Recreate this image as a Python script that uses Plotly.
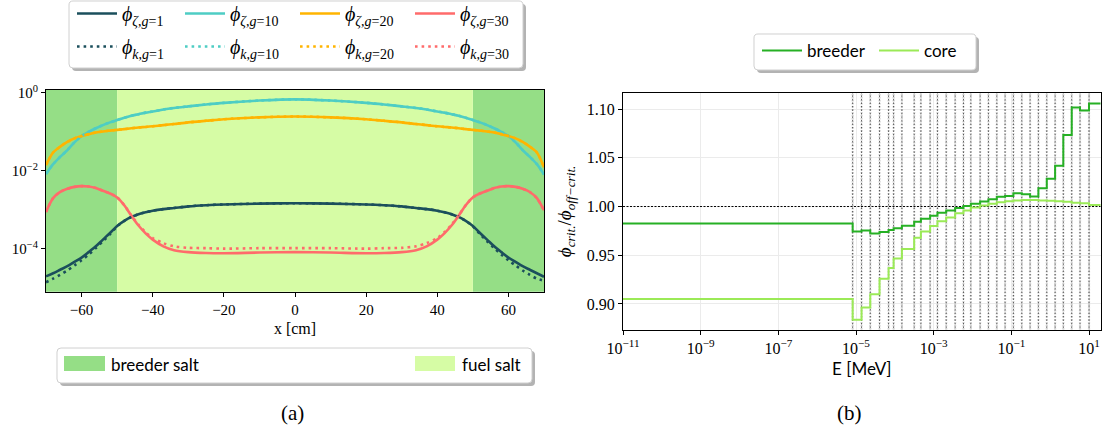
import plotly.graph_objects as go

W, H = 1104, 436


def px(x):
    return x / W


def py(y):
    return 1 - y / H


# ---------------- Panel (a): flux profiles ----------------
x_cm = [-70, -68, -66, -64, -62, -60, -58, -56, -54, -52, -50, -48, -46, -44, -42, -40, -37, -34, -30, -25, -20, -10,
        0, 10, 20, 25, 30, 34, 37, 40, 42, 44, 46, 48, 50, 52, 54, 56, 58, 60, 62, 64, 66, 68, 70]

phi_zeta_g1 = [2.00e-5, 2.40e-5, 2.95e-5, 3.63e-5, 4.68e-5, 6.03e-5, 8.32e-5, 1.17e-4, 1.74e-4, 2.57e-4, 3.89e-4,
               5.25e-4, 6.61e-4, 7.76e-4, 8.71e-4, 9.55e-4, 1.05e-3, 1.12e-3, 1.23e-3, 1.32e-3, 1.38e-3, 1.45e-3,
               1.48e-3, 1.45e-3, 1.38e-3, 1.32e-3, 1.23e-3, 1.12e-3, 1.05e-3, 9.55e-4, 8.71e-4, 7.76e-4, 6.61e-4,
               5.25e-4, 3.89e-4, 2.57e-4, 1.74e-4, 1.17e-4, 8.32e-5, 6.03e-5, 4.68e-5, 3.63e-5, 2.95e-5, 2.40e-5, 1.95e-5]
phi_k_g1 = [1.41e-5, 1.74e-5, 2.19e-5, 2.82e-5, 3.80e-5, 5.13e-5, 7.24e-5, 1.05e-4, 1.58e-4, 2.40e-4, 3.80e-4,
            5.25e-4, 6.61e-4, 7.76e-4, 8.71e-4, 9.55e-4, 1.05e-3, 1.12e-3, 1.23e-3, 1.32e-3, 1.38e-3, 1.45e-3,
            1.48e-3, 1.45e-3, 1.38e-3, 1.32e-3, 1.23e-3, 1.12e-3, 1.05e-3, 9.55e-4, 8.71e-4, 7.76e-4, 6.61e-4,
            5.25e-4, 3.80e-4, 2.40e-4, 1.58e-4, 1.05e-4, 7.24e-5, 5.13e-5, 3.80e-5, 2.82e-5, 2.19e-5, 1.74e-5, 1.55e-5]
phi_zeta_g10 = [8.3e-3, 1.48e-2, 2.29e-2, 3.39e-2, 5.37e-2, 7.76e-2, 0.100, 0.123, 0.148, 0.174, 0.200,
                0.229, 0.257, 0.282, 0.309, 0.331, 0.372, 0.407, 0.447, 0.500, 0.550, 0.630,
                0.676, 0.630, 0.550, 0.500, 0.447, 0.407, 0.372, 0.331, 0.309, 0.282, 0.257,
                0.229, 0.200, 0.174, 0.148, 0.123, 0.100, 7.76e-2, 5.37e-2, 3.39e-2, 2.29e-2, 1.48e-2, 8.1e-3]
phi_k_g10 = [8.3e-3, 1.48e-2, 2.29e-2, 3.39e-2, 5.37e-2, 7.76e-2, 0.100, 0.123, 0.148, 0.174, 0.200,
             0.229, 0.257, 0.282, 0.309, 0.331, 0.372, 0.407, 0.447, 0.500, 0.550, 0.630,
             0.676, 0.630, 0.550, 0.500, 0.447, 0.407, 0.372, 0.331, 0.309, 0.282, 0.257,
             0.229, 0.200, 0.174, 0.148, 0.123, 0.100, 7.76e-2, 5.37e-2, 3.39e-2, 2.29e-2, 1.48e-2, 8.1e-3]
phi_zeta_g20 = [1.41e-2, 2.95e-2, 4.17e-2, 5.50e-2, 6.76e-2, 7.76e-2, 8.70e-2, 9.55e-2, 0.102, 0.107, 0.112,
                0.117, 0.123, 0.129, 0.133, 0.138, 0.148, 0.158, 0.174, 0.191, 0.209, 0.234,
                0.245, 0.234, 0.209, 0.191, 0.174, 0.158, 0.148, 0.138, 0.133, 0.129, 0.123,
                0.117, 0.112, 0.107, 0.102, 9.55e-2, 8.70e-2, 7.76e-2, 6.76e-2, 5.50e-2, 4.17e-2, 2.95e-2, 1.23e-2]
phi_k_g20 = [1.41e-2, 2.95e-2, 4.17e-2, 5.50e-2, 6.76e-2, 7.76e-2, 8.70e-2, 9.55e-2, 0.102, 0.107, 0.112,
             0.117, 0.123, 0.129, 0.133, 0.138, 0.148, 0.158, 0.174, 0.191, 0.209, 0.234,
             0.245, 0.234, 0.209, 0.191, 0.174, 0.158, 0.148, 0.138, 0.133, 0.129, 0.123,
             0.117, 0.112, 0.107, 0.102, 9.55e-2, 8.70e-2, 7.76e-2, 6.76e-2, 5.50e-2, 4.17e-2, 2.95e-2, 1.23e-2]
phi_zeta_g30 = [8.9e-4, 2.0e-3, 2.88e-3, 3.47e-3, 3.89e-3, 4.07e-3, 3.98e-3, 3.63e-3, 3.09e-3, 2.63e-3, 2.09e-3,
                1.32e-3, 7.1e-4, 3.98e-4, 2.51e-4, 1.74e-4, 1.17e-4, 9.3e-5, 8.3e-5, 7.9e-5, 7.8e-5, 8.1e-5,
                8.3e-5, 8.1e-5, 7.8e-5, 7.9e-5, 8.3e-5, 9.3e-5, 1.17e-4, 1.74e-4, 2.51e-4, 3.98e-4, 7.1e-4,
                1.32e-3, 2.09e-3, 2.63e-3, 3.09e-3, 3.63e-3, 3.98e-3, 4.07e-3, 3.89e-3, 3.47e-3, 2.88e-3, 2.0e-3, 9.8e-4]
phi_k_g30 = [8.9e-4, 2.0e-3, 2.88e-3, 3.47e-3, 3.89e-3, 4.07e-3, 3.98e-3, 3.63e-3, 3.09e-3, 2.63e-3, 2.09e-3,
             1.32e-3, 7.2e-4, 4.17e-4, 2.69e-4, 1.91e-4, 1.41e-4, 1.17e-4, 1.07e-4, 1.05e-4, 1.02e-4, 1.05e-4,
             1.05e-4, 1.05e-4, 1.02e-4, 1.05e-4, 1.07e-4, 1.17e-4, 1.41e-4, 1.91e-4, 2.69e-4, 4.17e-4, 7.2e-4,
             1.32e-3, 2.09e-3, 2.63e-3, 3.09e-3, 3.63e-3, 3.98e-3, 4.07e-3, 3.89e-3, 3.47e-3, 2.88e-3, 2.0e-3, 9.8e-4]

groups = ["1", "10", "20", "30"]
group_colors = ["#1B4F5C", "#4ECDC4", "#FFB400", "#FF6B6B"]

# material regions [cm]
breeder_regions = [(-70, -50), (50, 70)]
fuel_region = (-50, 50)
breeder_color = "#95DE86"
fuel_color = "#D6FCA5"

# ---------------- Panel (b): critical / off-critical ratio ----------------
E_edges_MeV = [1e-11, 8.2e-6, 1.39e-5, 2.33e-5, 4.04e-5, 6.9e-5, 9.3e-5, 1.52e-4, 3.15e-4, 4.69e-4, 8.1e-4,
               1.25e-3, 2.1e-3, 3.57e-3, 5.85e-3, 9.06e-3, 1.57e-2, 2.57e-2, 4.23e-2, 6.9e-2, 0.113,
               0.186, 0.304, 0.497, 0.817, 1.34, 2.18, 3.59, 5.87, 10.0, 20.0]
ratio_breeder = [0.9825, 0.9745, 0.9754, 0.9723, 0.9738, 0.9760, 0.9778, 0.9803, 0.9845, 0.9875,
                 0.9905, 0.9937, 0.9960, 0.9985, 1.0005, 1.0028, 1.0052, 1.0075, 1.0100, 1.0108,
                 1.0137, 1.0127, 1.0103, 1.0187, 1.0284, 1.0418, 1.0733, 1.1015, 1.0986, 1.1058]
ratio_core = [0.9052, 0.8837, 0.8963, 0.9100, 0.9260, 0.9370, 0.9466, 0.9563, 0.9680, 0.9743,
              0.9800, 0.9850, 0.9887, 0.9930, 0.9959, 0.9990, 1.0010, 1.0028, 1.0045, 1.0055,
              1.0062, 1.0066, 1.0066, 1.0062, 1.0060, 1.0055, 1.0048, 1.0040, 1.0033, 1.0015]
ratio_colors = {"breeder": "#26B024", "core": "#9BEA57"}

SERIF = "Liberation Serif"
SANS = "Lato"

fig = go.Figure()

# ---- panel (a) traces ----
legend_names = ["legend", "legend2", "legend3", "legend4"]
zeta_series = [phi_zeta_g1, phi_zeta_g10, phi_zeta_g20, phi_zeta_g30]
k_series = [phi_k_g1, phi_k_g10, phi_k_g20, phi_k_g30]
for i, g in enumerate(groups):
    fig.add_trace(go.Scatter(
        x=x_cm, y=zeta_series[i], mode="lines", line=dict(color=group_colors[i], width=2.6, shape="spline", smoothing=0.8),
        name="<i>ϕ</i><sub><i>ζ</i>,<i>g</i>=%s</sub>" % g, legend=legend_names[i], legendgroup="z" + g,
        xaxis="x", yaxis="y"))
for i, g in enumerate(groups):
    fig.add_trace(go.Scatter(
        x=x_cm, y=k_series[i], mode="lines",
        line=dict(color=group_colors[i], width=2.6, dash="2.6px,4px", shape="spline", smoothing=0.8),
        name="<i>ϕ</i><sub><i>k</i>,<i>g</i>=%s</sub>" % g, legend=legend_names[i], legendgroup="k" + g,
        xaxis="x", yaxis="y"))

# ---- panel (b) traces ----
bx, by = [], []
for e in E_edges_MeV[1:-1]:
    bx += [e, e, None]
    by += [0.80, 1.20, None]
fig.add_trace(go.Scatter(x=bx, y=by, mode="lines", line=dict(color="rgba(170,170,170,0.5)", width=2.2, dash="1.5px,1.5px"),
                         showlegend=False, hoverinfo="skip", xaxis="x2", yaxis="y2"))
fig.add_trace(go.Scatter(x=bx, y=by, mode="lines", line=dict(color="rgba(0,0,0,0.8)", width=0.8, dash="1.5px,2px"),
                         showlegend=False, hoverinfo="skip", xaxis="x2", yaxis="y2"))
fig.add_trace(go.Scatter(x=[E_edges_MeV[0], E_edges_MeV[-1]], y=[1.0, 1.0], mode="lines",
                         line=dict(color="black", width=1, dash="2px,1.5px"), showlegend=False,
                         hoverinfo="skip", xaxis="x2", yaxis="y2"))
for name, vals in [("breeder", ratio_breeder), ("core", ratio_core)]:
    fig.add_trace(go.Scatter(
        x=E_edges_MeV, y=vals + [vals[-1]], mode="lines", line=dict(color=ratio_colors[name], width=2, shape="hv"),
        name=name, legend="legend5", xaxis="x2", yaxis="y2"))

# ---- shapes: regions, legend boxes ----
shapes = []
for (a, b) in breeder_regions:
    shapes.append(dict(type="rect", xref="x", yref="y domain", x0=a, x1=b, y0=0, y1=1, fillcolor=breeder_color,
                       line=dict(width=0), layer="below"))
shapes.append(dict(type="rect", xref="x", yref="y domain", x0=fuel_region[0], x1=fuel_region[1], y0=0, y1=1,
                   fillcolor=fuel_color, line=dict(width=0), layer="below"))


def rrect(x0, y0, x1, y1, r=4):
    pts = [
        ("M", x0 + r, y0), ("L", x1 - r, y0), ("Q", x1, y0, x1, y0 + r), ("L", x1, y1 - r),
        ("Q", x1, y1, x1 - r, y1), ("L", x0 + r, y1), ("Q", x0, y1, x0, y1 - r), ("L", x0, y0 + r),
        ("Q", x0, y0, x0 + r, y0)]
    s = ""
    for p in pts:
        if p[0] == "Q":
            s += "Q%.5f,%.5f %.5f,%.5f " % (px(p[1]), py(p[2]), px(p[3]), py(p[4]))
        else:
            s += "%s%.5f,%.5f " % (p[0], px(p[1]), py(p[2]))
    return s + "Z"


def legend_box(x0, y0, x1, y1):
    shapes.append(dict(type="path", xref="paper", yref="paper", path=rrect(x0 + 3, y0 + 3, x1 + 3, y1 + 3),
                       fillcolor="#b3b3b3", line=dict(width=0), layer="above"))
    shapes.append(dict(type="path", xref="paper", yref="paper", path=rrect(x0, y0, x1, y1),
                       fillcolor="white", line=dict(color="#d0d0d0", width=1), layer="above"))


legend_box(69, 1, 523, 68)
legend_box(754, 34, 976, 70)
legend_box(57, 348, 532, 383)
# salt legend patches
shapes.append(dict(type="rect", xref="paper", yref="paper", x0=px(64), x1=px(105), y0=py(371), y1=py(356),
                   fillcolor=breeder_color, line=dict(width=0), layer="above"))
shapes.append(dict(type="rect", xref="paper", yref="paper", x0=px(415), x1=px(455), y0=py(371), y1=py(356),
                   fillcolor=fuel_color, line=dict(width=0), layer="above"))

annotations = [
    dict(text="breeder salt", x=px(109), y=py(364), xref="paper", yref="paper", xanchor="left", yanchor="middle",
         showarrow=False, font=dict(family=SANS, size=17, color="black")),
    dict(text="fuel salt", x=px(460), y=py(364), xref="paper", yref="paper", xanchor="left", yanchor="middle",
         showarrow=False, font=dict(family=SANS, size=17, color="black")),
    dict(text="(a)", x=px(292), y=py(413), xref="paper", yref="paper", xanchor="center", yanchor="middle",
         showarrow=False, font=dict(family=SERIF, size=21, color="black")),
    dict(text="(b)", x=px(849), y=py(413), xref="paper", yref="paper", xanchor="center", yanchor="middle",
         showarrow=False, font=dict(family=SERIF, size=21, color="black")),
]

axis_common = dict(showline=True, linecolor="black", linewidth=1, mirror=True, ticks="outside", ticklen=4,
                   tickcolor="black", tickwidth=1, zeroline=False)

leg_common = dict(orientation="v", bgcolor="rgba(0,0,0,0)", borderwidth=0, xanchor="left", yanchor="middle",
                  y=py(30), font=dict(family=SERIF, size=20, color="black"), tracegroupgap=4, itemwidth=40)
col_x = [75, 183, 298, 413]

fig.update_layout(
    width=W, height=H, margin=dict(l=0, r=0, t=0, b=0, autoexpand=False), paper_bgcolor="white",
    plot_bgcolor="white", showlegend=True,
    legend=dict(leg_common, x=px(col_x[0] - 3)),
    legend2=dict(leg_common, x=px(col_x[1] - 3)),
    legend3=dict(leg_common, x=px(col_x[2] - 3)),
    legend4=dict(leg_common, x=px(col_x[3] - 3)),
    legend5=dict(orientation="h", bgcolor="rgba(0,0,0,0)", borderwidth=0, xanchor="left", yanchor="middle",
                 x=px(757), y=py(51), font=dict(family=SANS, size=17, color="black"), itemwidth=40,
                 entrywidth=62),
    xaxis=dict(axis_common, domain=[px(46), px(544)], range=[-70, 70], tickvals=[-60, -40, -20, 0, 20, 40, 60],
               ticktext=["−60", "−40", "−20", "0", "20", "40", "60"], showgrid=False,
               tickfont=dict(family=SERIF, size=15, color="black"),
               title=dict(text="x [cm]", font=dict(family=SERIF, size=16, color="black"), standoff=6),
               anchor="y"),
    yaxis=dict(axis_common, domain=[py(291.7), py(90)], type="log", range=[-5.093, 0.069],
               tickvals=[1e-4, 1e-2, 1], ticktext=["10<sup>−4</sup>", "10<sup>−2</sup>", "10<sup>0</sup>"],
               showgrid=False, tickfont=dict(family=SERIF, size=15, color="black"), anchor="x"),
    xaxis2=dict(axis_common, domain=[px(623), px(1100.7)], type="log", range=[-11, 1.30103],
                tickvals=[1e-11, 1e-9, 1e-7, 1e-5, 1e-3, 1e-1, 1e1],
                ticktext=["10<sup>−11</sup>", "10<sup>−9</sup>", "10<sup>−7</sup>", "10<sup>−5</sup>",
                          "10<sup>−3</sup>", "10<sup>−1</sup>", "10<sup>1</sup>"],
                showgrid=True, gridcolor="#ebebeb", gridwidth=1,
                tickfont=dict(family=SERIF, size=16, color="black"),
                title=dict(text="E [MeV]", font=dict(family=SANS, size=17, color="black"), standoff=6),
                anchor="y2"),
    yaxis2=dict(axis_common, domain=[py(330), py(92.7)], range=[0.8733, 1.1168],
                tickvals=[0.90, 0.95, 1.00, 1.05, 1.10], tickformat=".2f", showgrid=True, gridcolor="#ebebeb",
                gridwidth=1, tickfont=dict(family=SERIF, size=16, color="black"),
                title=dict(text="<i>ϕ</i><sub><i>crit.</i></sub>/<i>ϕ</i><sub><i>off−crit.</i></sub>",
                           font=dict(family=SERIF, size=19, color="black"), standoff=10),
                anchor="x2"),
    shapes=shapes, annotations=annotations,
)

fig.write_html("out.html")
